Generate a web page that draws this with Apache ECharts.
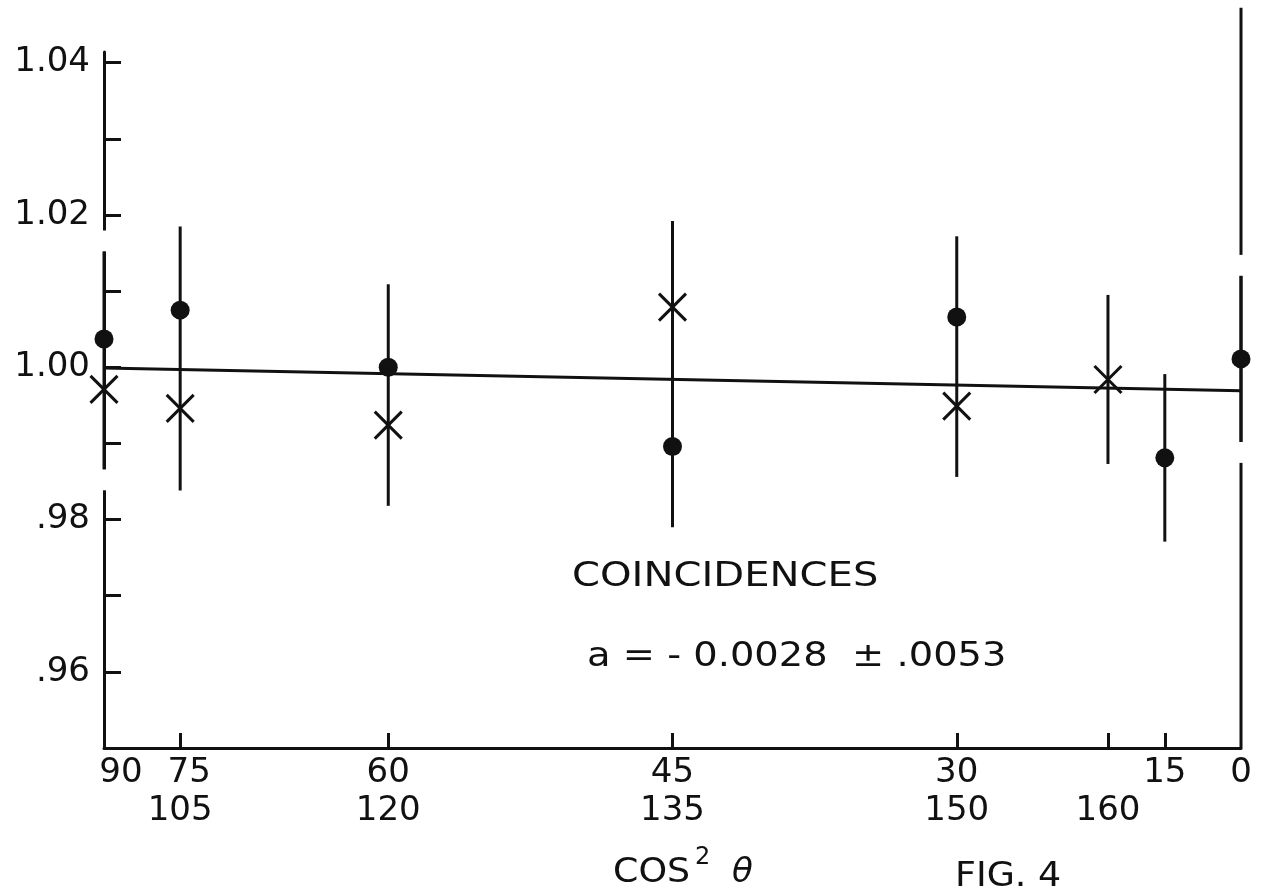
<!DOCTYPE html>
<html>
<head>
<meta charset="utf-8">
<script src="https://cdn.jsdelivr.net/npm/echarts@6/dist/echarts.min.js"></script>
<style>
html,body{margin:0;padding:0;background:#fff;}
#chart{width:1266px;height:888px;}
</style>
</head>
<body>
<div id="chart"></div>
<script>
// ---- data (x = cos^2 theta) ----
const dotX     = [0, 0.067, 0.25, 0.5, 0.75, 0.933, 1];
const dotY     = [1.0037, 1.0075, 1.0000, 0.9896, 1.0066, 0.9881, 1.0011];
const dotErr   = [0.0115, 0.0110, 0.0109, 0.0106, 0.0106, 0.0110, 0.0109];
const crossX   = [0, 0.067, 0.25, 0.5, 0.75, 0.883];
const crossY   = [0.9971, 0.9946, 0.9924, 1.0079, 0.9949, 0.9984];
const crossErr = [0.0105, 0.0108, 0.0106, 0.0113, 0.0093, 0.0111];
const fitX     = [0, 1];
const fitY     = [0.9999, 0.9969];
const yTickValues  = [0.96, 0.97, 0.98, 0.99, 1.00, 1.01, 1.02, 1.03, 1.04];
const yLabelValues = [0.96, 0.98, 1.00, 1.02, 1.04];
const yLabelTexts  = ['.96', '.98', '1.00', '1.02', '1.04'];
const xTickValues  = [0.067, 0.25, 0.5, 0.75, 0.883, 0.933];
const xRow1Values  = [0, 0.067, 0.25, 0.5, 0.75, 0.933, 1];
const xRow1Texts   = ['90', '75', '60', '45', '30', '15', '0'];
const xRow2Values  = [0.067, 0.25, 0.5, 0.75, 0.883];
const xRow2Texts   = ['105', '120', '135', '150', '160'];

const FONT = 'DejaVu Sans';
const INK = '#111';

function lookup(vals, texts, v){
  let best = 0, d = Infinity;
  vals.forEach((x,i)=>{ const dd = Math.abs(x - v); if (dd < d){ d = dd; best = i; } });
  return texts[best];
}

// combined error bars per x position (union of dot & cross bars)
const barMap = {};
function addBar(x, y, e){
  const k = x.toFixed(4);
  if (!barMap[k]) barMap[k] = [x, y - e, y + e];
  else { barMap[k][1] = Math.min(barMap[k][1], y - e); barMap[k][2] = Math.max(barMap[k][2], y + e); }
}
dotX.forEach((x,i)=>addBar(x, dotY[i], dotErr[i]));
crossX.forEach((x,i)=>addBar(x, crossY[i], crossErr[i]));
const bars = Object.values(barMap);

const chart = echarts.init(document.getElementById('chart'), null, {renderer:'canvas'});

const option = {
  backgroundColor: '#fff',
  animation: false,
  grid: {left: 104, right: 25, top: 52, bottom: 140},
  xAxis: [{
    type: 'value', min: 0, max: 1, position: 'bottom',
    axisLine: {show: true, onZero: false, lineStyle: {color: INK, width: 3}},
    axisTick: {show: true, inside: true, length: 15, lineStyle: {color: INK, width: 3}, customValues: xTickValues},
    splitLine: {show: false},
    axisLabel: {
      show: true, margin: 8, color: INK, fontFamily: FONT, fontSize: 34, lineHeight: 34,
      customValues: xRow1Values,
      formatter: function(v){
        const t = lookup(xRow1Values, xRow1Texts, v);
        if (t === '90') return '{s90|90}';
        if (t === '75') return '{s75|75}';
        return t;
      },
      rich: {
        s90: {padding: [0,0,0,34], fontFamily: FONT, fontSize: 34, color: INK},
        s75: {padding: [0,0,0,18], fontFamily: FONT, fontSize: 34, color: INK}
      }
    }
  }, {
    type: 'value', min: 0, max: 1, position: 'bottom', offset: 38,
    axisLine: {show: false}, axisTick: {show: false}, splitLine: {show: false},
    axisLabel: {
      show: true, margin: 8, color: INK, fontFamily: FONT, fontSize: 34, lineHeight: 34,
      customValues: xRow2Values,
      formatter: function(v){ return lookup(xRow2Values, xRow2Texts, v); }
    }
  }],
  yAxis: {
    type: 'value', min: 0.95, max: 1.0414,
    axisLine: {show: true, onZero: false, lineStyle: {color: INK, width: 3}},
    axisTick: {show: true, inside: true, length: 17, lineStyle: {color: INK, width: 3}, customValues: yTickValues},
    splitLine: {show: false},
    axisLabel: {
      show: true, margin: 14, color: INK, fontFamily: FONT, fontSize: 34, padding: [8,0,0,0],
      customValues: yLabelValues,
      formatter: function(v){ return lookup(yLabelValues, yLabelTexts, v); }
    }
  },
  series: [
    { // right frame
      type: 'line', z: 1, clip: false, symbol: 'none', silent: true,
      data: [[1, 0.95], [1, 1.0472]],
      lineStyle: {color: INK, width: 3}
    },
    { // fitted line
      type: 'line', z: 2, symbol: 'none', silent: true,
      data: fitX.map((x,i)=>[x, fitY[i]]),
      lineStyle: {color: INK, width: 3}
    },
    { // error bars with small white gaps at their ends
      type: 'custom', z: 3, silent: true,
      data: bars,
      renderItem: function(params, api){
        const x = api.value(0), lo = api.value(1), hi = api.value(2);
        const pt = api.coord([x, hi]), pb = api.coord([x, lo]);
        const gap = 21;
        return {type: 'group', children: [
          {type: 'rect', shape: {x: pt[0]-6, y: pt[1]-gap, width: 12, height: gap}, style: {fill: '#fff'}},
          {type: 'rect', shape: {x: pb[0]-6, y: pb[1], width: 12, height: gap}, style: {fill: '#fff'}},
          {type: 'line', shape: {x1: pt[0], y1: pt[1], x2: pb[0], y2: pb[1]}, style: {stroke: INK, lineWidth: 3}}
        ]};
      }
    },
    { // dots
      type: 'scatter', z: 4, symbol: 'circle', symbolSize: 19, silent: true,
      data: dotX.map((x,i)=>[x, dotY[i]]),
      itemStyle: {color: INK, opacity: 1}
    },
    { // crosses
      type: 'scatter', z: 4, symbol: 'path://M0,0L10,10M10,0L0,10', symbolSize: 27, silent: true,
      data: crossX.map((x,i)=>[x, crossY[i]]),
      itemStyle: {color: 'rgba(0,0,0,0)', borderColor: INK, borderWidth: 3, opacity: 1}
    }
  ],
  graphic: [
    {type: 'text', x: 572, y: 560, scaleX: 1.18, style: {text: 'COINCIDENCES', fontFamily: FONT, fontSize: 34, fill: INK}},
    {type: 'text', x: 587, y: 640, scaleX: 1.13, style: {text: 'a = - 0.0028  ± .0053', fontFamily: FONT, fontSize: 34, fill: INK}},
    {type: 'text', x: 613, y: 856, scaleX: 1.07, style: {text: 'COS', fontFamily: FONT, fontSize: 34, fill: INK}},
    {type: 'text', x: 695, y: 846, style: {text: '2', fontFamily: FONT, fontSize: 24, fill: INK}},
    {type: 'text', x: 732, y: 856, style: {text: 'θ', fontFamily: FONT, fontSize: 34, fontStyle: 'italic', fill: INK}},
    {type: 'text', x: 955, y: 860, scaleX: 1.07, style: {text: 'FIG. 4', fontFamily: FONT, fontSize: 34, fill: INK}}
  ]
};
chart.setOption(option);
</script>
</body>
</html>
